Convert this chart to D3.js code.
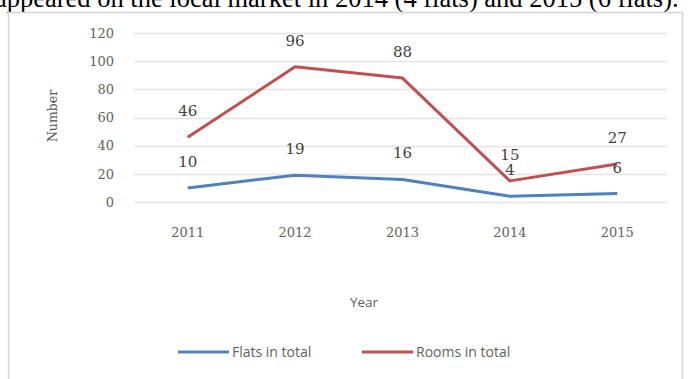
<!DOCTYPE html>
<html>
<head>
<meta charset="utf-8">
<script src="https://cdn.jsdelivr.net/npm/d3@7"></script>
<style>
  body { margin: 0; background: #fff; }
  svg { display: block; }
</style>
</head>
<body>
<div class="grafico"></div>
<script>
// dados do gráfico
var anos = ["2011", "2012", "2013", "2014", "2015"];
var flats = [10, 19, 16, 4, 6];
var rooms = [46, 96, 88, 15, 27];
var yTicks = [0, 20, 40, 60, 80, 100, 120];
var series = [
  { nome: "Flats in total", valores: flats, cor: "#4f81bd" },
  { nome: "Rooms in total", valores: rooms, cor: "#c0504d" }
];

var width = 690;
var height = 379;

var svg = d3.select(".grafico")
  .append("svg")
  .attr("width", width)
  .attr("height", height);

// texto do documento cortado no topo
svg.append("text")
  .attr("x", -5)
  .attr("y", 7)
  .attr("font-family", "Liberation Serif, Times New Roman, serif")
  .attr("font-size", 26.5)
  .attr("fill", "#000")
  .text("appeared on the local market in 2014 (4 flats) and 2015 (6 flats).");

// moldura do gráfico
svg.append("rect")
  .attr("x", 8.5)
  .attr("y", 12.5)
  .attr("width", 674)
  .attr("height", 380)
  .attr("fill", "#fff")
  .attr("stroke", "#d4d4d4")
  .attr("stroke-width", 1.5);

// escalas
var x = d3.scaleBand()
  .domain(anos)
  .range([134, 671]);

var y = d3.scaleLinear()
  .domain([0, 120])
  .range([202, 33]);

// linhas de grade
svg.append("g")
  .selectAll("line")
  .data(yTicks)
  .enter()
  .append("line")
  .attr("x1", x.range()[0])
  .attr("x2", x.range()[1] - 4)
  .attr("y1", function(d){ return Math.round(y(d)) + 0.5; })
  .attr("y2", function(d){ return Math.round(y(d)) + 0.5; })
  .attr("stroke", "#e3e3e3")
  .attr("stroke-width", 1.5);

// eixo y
var yAxis = d3.axisLeft(y)
  .tickValues(yTicks)
  .tickSize(0)
  .tickPadding(20);

var gy = svg.append("g")
  .attr("transform", "translate(134,0)")
  .call(yAxis);
gy.select(".domain").remove();
gy.selectAll("text")
  .attr("font-family", "DejaVu Serif, serif")
  .attr("font-size", 13)
  .attr("fill", "#5f5f5f");

// eixo x
var xAxis = d3.axisBottom(x)
  .tickSize(0)
  .tickPadding(26);

var gx = svg.append("g")
  .attr("transform", "translate(0,202)")
  .call(xAxis);
gx.select(".domain").remove();
gx.selectAll("text")
  .attr("font-family", "DejaVu Serif, serif")
  .attr("font-size", 13)
  .attr("fill", "#5f5f5f");

// títulos dos eixos
svg.append("text")
  .attr("transform", "translate(57,116) rotate(-90)")
  .attr("text-anchor", "middle")
  .attr("font-family", "DejaVu Serif, serif")
  .attr("font-size", 12.5)
  .attr("fill", "#555")
  .text("Number");

svg.append("text")
  .attr("x", 364)
  .attr("y", 307)
  .attr("text-anchor", "middle")
  .attr("font-family", "Open Sans, sans-serif")
  .attr("font-size", 13.5)
  .attr("fill", "#5f5f5f")
  .text("Year");

// linhas das séries
var linha = d3.line()
  .x(function(d, i){ return x(anos[i]) + x.bandwidth() / 2; })
  .y(function(d){ return y(d); });

series.forEach(function(s){
  svg.append("path")
    .datum(s.valores)
    .attr("d", linha)
    .attr("fill", "none")
    .attr("stroke", s.cor)
    .attr("stroke-width", 3)
    .attr("stroke-linejoin", "round");
});

// rótulos dos dados
series.forEach(function(s){
  svg.append("g")
    .selectAll("text")
    .data(s.valores)
    .enter()
    .append("text")
    .attr("x", function(d, i){ return x(anos[i]) + x.bandwidth() / 2; })
    .attr("y", function(d){ return y(d) - 21; })
    .attr("text-anchor", "middle")
    .attr("font-family", "DejaVu Serif, serif")
    .attr("font-size", 15)
    .attr("fill", "#404040")
    .text(function(d){ return d; });
});

// legenda
var legenda = svg.append("g")
  .attr("transform", "translate(0,352)");

var legPos = [178, 362];
series.forEach(function(s, i){
  var g = legenda.append("g")
    .attr("transform", "translate(" + legPos[i] + ",0)");
  g.append("line")
    .attr("x1", 0)
    .attr("x2", 51)
    .attr("y1", 0)
    .attr("y2", 0)
    .attr("stroke", s.cor)
    .attr("stroke-width", 3);
  g.append("text")
    .attr("x", 54)
    .attr("y", 5)
    .attr("font-family", "Open Sans, sans-serif")
    .attr("font-size", 14)
    .attr("fill", "#5f5f5f")
    .text(s.nome);
});
</script>
</body>
</html>
